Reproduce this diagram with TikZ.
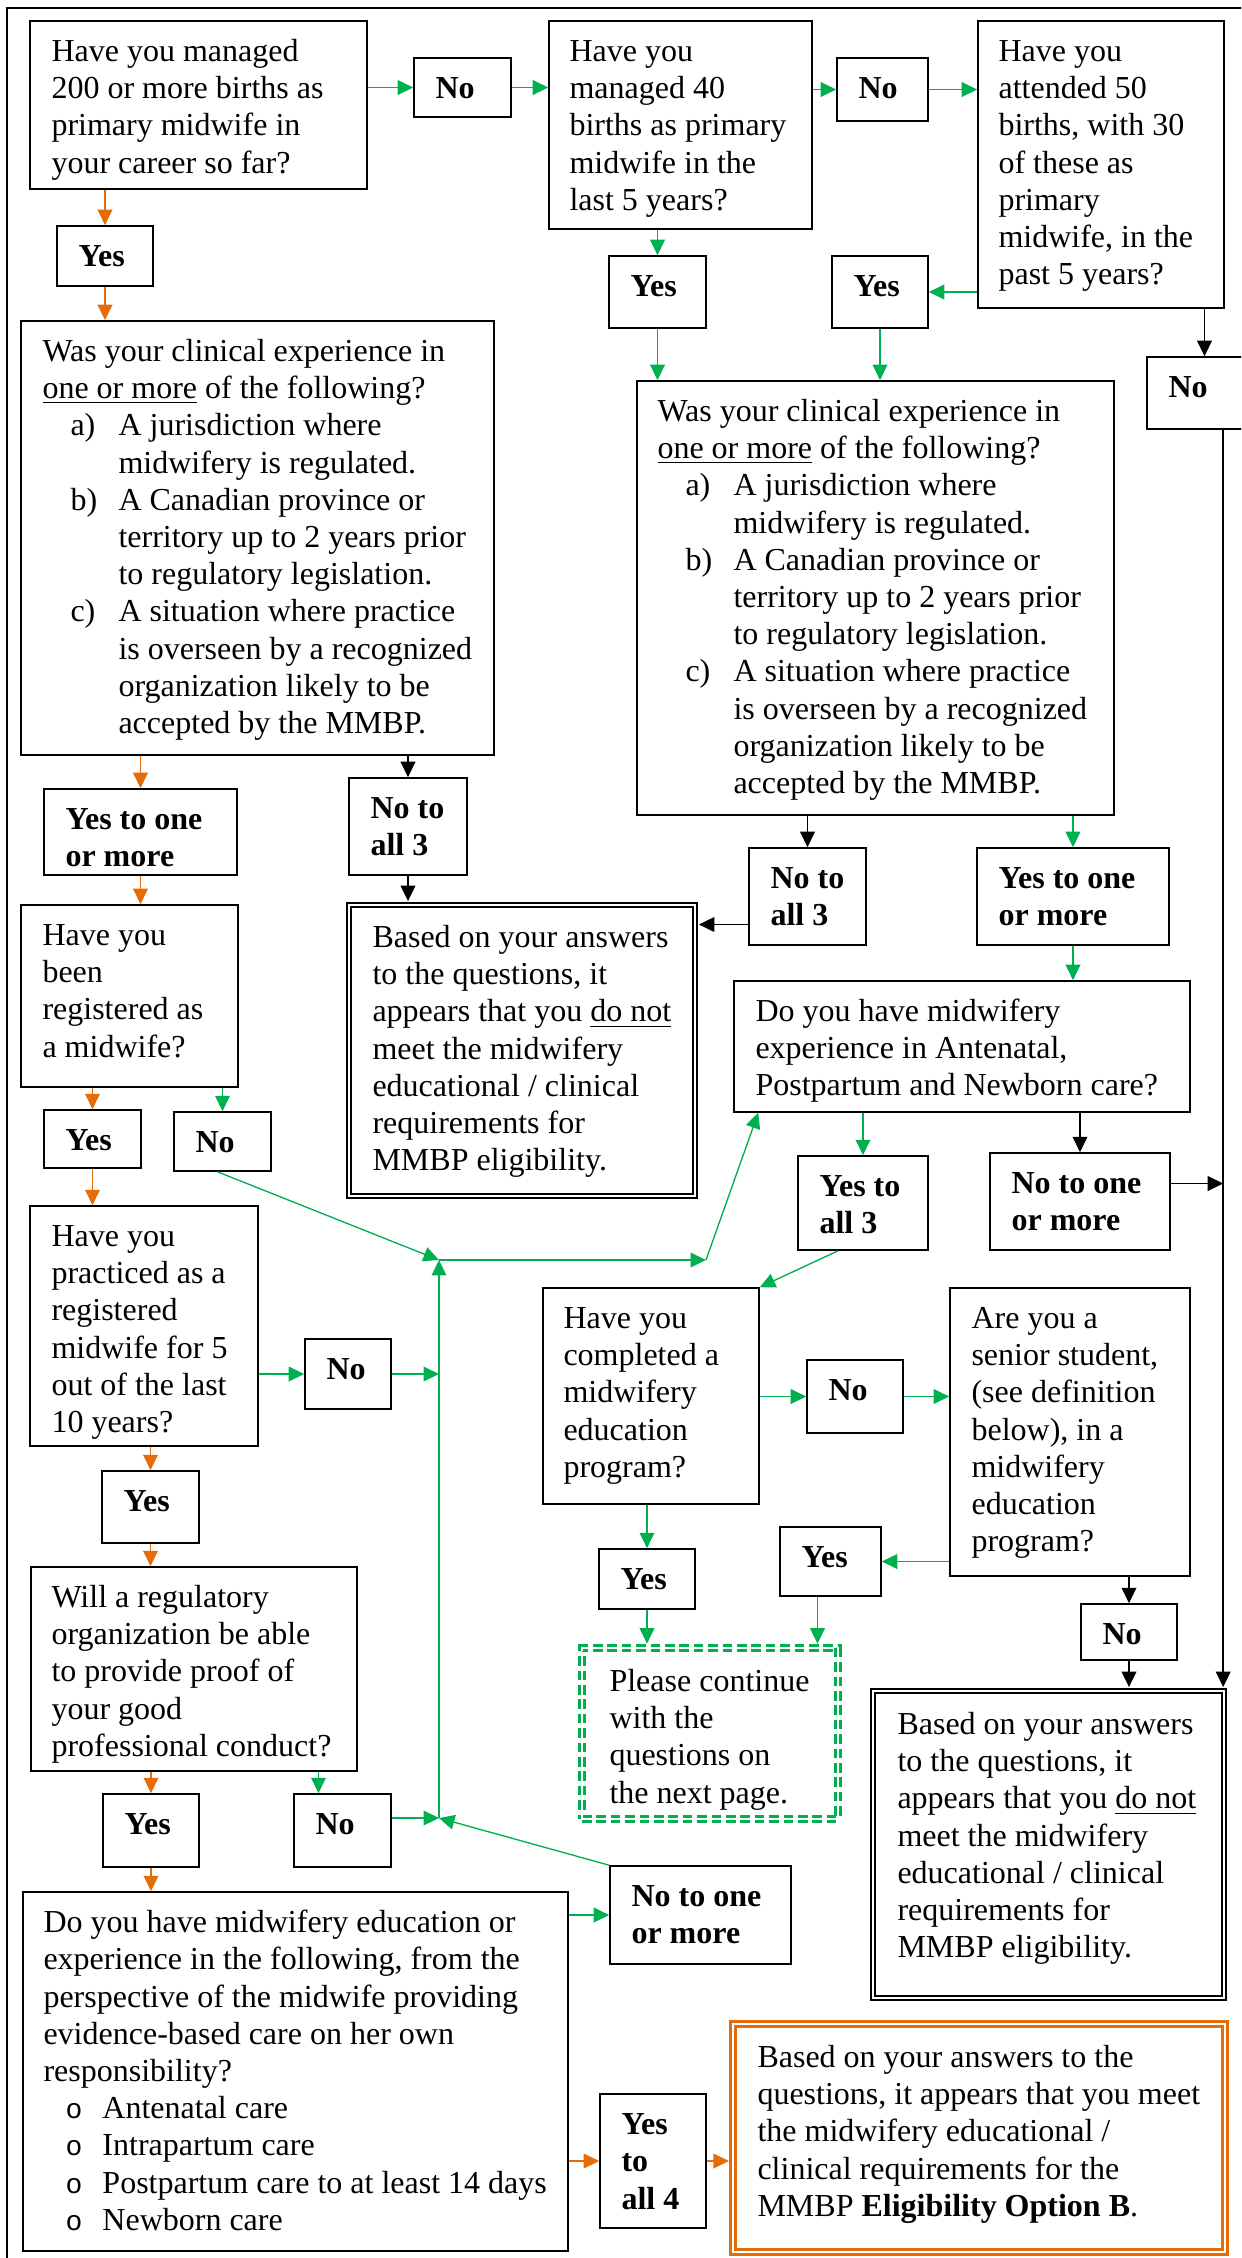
\documentclass[tikz,border=0pt]{standalone}
\usepackage{fontspec}
\setmainfont{Liberation Serif}
\setmonofont{Liberation Mono}
\usetikzlibrary{arrows.meta,calc}
\definecolor{grn}{RGB}{0,176,80}
\definecolor{org}{RGB}{228,108,10}
\tikzset{
  qbox/.style={draw, line width=0.6pt, inner sep=0pt, rectangle},
  kdbox/.style={draw, double, double distance=1.1pt, line width=0.75pt, inner sep=0pt, rectangle},
  odbox/.style={draw=org, double, double distance=1.1pt, line width=0.85pt, inner sep=0pt, rectangle},
  gdbox/.style={draw=grn, double, double distance=0.9pt, line width=1.05pt, dash pattern=on 3.6pt off 1.8pt, inner sep=0pt, rectangle},
  txt/.style={anchor=north west, inner sep=0pt, align=left, font=\fontsize{12}{13.95}\selectfont},
  btxt/.style={txt, font=\fontsize{12}{13.95}\selectfont\bfseries},
  ga/.style={draw=grn, line width=0.5pt, -{Triangle[length=5.8pt,width=5.5pt]}},
  oa/.style={draw=org, line width=0.5pt, -{Triangle[length=5.8pt,width=5.5pt]}},
  ka/.style={draw=black, line width=0.6pt, -{Triangle[length=5.8pt,width=5.5pt]}},
}
\newcommand\bx[9][qbox]{%
  \node[#1, minimum width={(#5-#3)*0.375pt}, minimum height={(#6-#4)*0.375pt}] (#2) at ({(#3+#5)/2},{(#4+#6)/2}) {};
  \node[txt] (#2-t) at ({#3+#7},{#4+#8}) {\strut #9};
}
\newcommand\lb[6]{%
  \node[qbox, minimum width={(#4-#2)*0.375pt}, minimum height={(#5-#3)*0.375pt}] (#1) at ({(#2+#4)/2},{(#3+#5)/2}) {};
  \node[btxt] (#1-t) at ({#2+21},{#3+14}) {\strut #6};
}
\newcommand\itm[1]{\makebox[28.5pt][l]{\hspace{10.5pt}#1}}
\newcommand\ind{\hspace*{28.5pt}}
\newcommand\bul{\makebox[22.1pt][l]{\hspace{8.3pt}{\fontsize{10.5}{12}\ttfamily o}}}
\newcommand\clin{Was your clinical experience in\\\underline{one or more} of the following?\\\itm{a)}A jurisdiction where\\\ind midwifery is regulated.\\\itm{b)}A Canadian province or\\\ind territory up to 2 years prior\\\ind to regulatory legislation.\\\itm{c)}A situation where practice\\\ind is overseen by a recognized\\\ind organization likely to be\\\ind accepted by the MMBP.}
\newcommand\notmeet{Based on your answers\\to the questions, it\\appears that you \underline{do not}\\meet the midwifery\\educational / clinical\\requirements for\\MMBP eligibility.}
\begin{document}
\begin{tikzpicture}[x=0.375pt,y=-0.375pt]
\useasboundingbox (0,0) rectangle (1241,2258);
\clip (0,0) rectangle (1241,2258);
\draw[line width=0.75pt] (7,2300) -- (7,8) -- (1300,8);

\bx{q1}{30}{21}{367}{189}{21}{14}{Have you managed\\200 or more births as\\primary midwife in\\your career so far?}
\bx{q2}{549}{21}{812}{229}{20}{14}{Have you\\managed 40\\births as primary\\midwife in the\\last 5 years?}
\bx{q3}{978}{21}{1224}{308}{20}{14}{Have you\\attended 50\\births, with 30\\of these as\\primary\\midwife, in the\\past 5 years?}
\lb{no1}{414}{58}{511}{117}{No}
\lb{no2}{837}{58}{928}{121}{No}
\lb{yes1}{57}{226}{153}{286}{Yes}
\lb{yes2}{609}{256}{706}{328}{Yes}
\lb{yes3}{832}{256}{928}{328}{Yes}
\lb{noR}{1147}{357}{1262}{429}{No}
\bx{qc1}{21}{321}{494}{755}{21}{14}{\clin}
\bx{qc2}{637}{381}{1114}{815}{20}{14}{\clin}
\lb{yesone1}{44}{789}{237}{875}{Yes to one\\or more}
\lb{noall3a}{349}{778}{467}{875}{No to\\all 3}
\lb{noall3b}{749}{848}{866}{945}{No to\\all 3}
\lb{yesone2}{977}{848}{1169}{945}{Yes to one\\or more}
\bx{qreg}{21}{905}{238}{1087}{21}{14}{Have you\\been\\registered as\\a midwife?}
\bx[kdbox]{black1}{349}{905}{695}{1196}{23}{16}{\notmeet}
\bx{qcare}{734}{981}{1190}{1112}{21}{14}{Do you have midwifery\\experience in Antenatal,\\Postpartum and Newborn care?}
\lb{yesreg}{44}{1110}{141}{1168}{Yes}
\lb{noreg}{174}{1112}{271}{1171}{No}
\lb{yesall3}{798}{1156}{928}{1250}{Yes to\\all 3}
\lb{noonec}{990}{1153}{1170}{1250}{No to one\\or more}
\bx{qpract}{30}{1206}{258}{1446}{21}{14}{Have you\\practiced as a\\registered\\midwife for 5\\out of the last\\10 years?}
\bx{qcomp}{543}{1288}{759}{1504}{20}{14}{Have you\\completed a\\midwifery\\education\\program?}
\bx{senior}{950}{1288}{1190}{1576}{21}{14}{Are you a\\senior student,\\(see definition\\below), in a\\midwifery\\education\\program?}
\lb{nopract}{305}{1339}{391}{1409}{No}
\lb{nocomp}{807}{1360}{903}{1433}{No}
\lb{yespract}{102}{1471}{199}{1543}{Yes}
\lb{yessen}{780}{1527}{881}{1596}{Yes}
\lb{yescomp}{599}{1549}{695}{1609}{Yes}
\bx{qprof}{31}{1567}{357}{1771}{20}{14}{Will a regulatory\\organization be able\\to provide proof of\\your good\\professional conduct?}
\lb{nosen}{1081}{1604}{1177}{1660}{No}
\bx[gdbox]{dashed}{582}{1648}{838}{1819}{27}{17}{Please continue\\with the\\questions on\\the next page.}
\bx[kdbox]{black2}{873}{1691}{1224}{1998}{24}{17}{\notmeet}
\lb{yesprof}{103}{1794}{199}{1867}{Yes}
\lb{noprof}{294}{1794}{391}{1867}{No}
\lb{noonef}{610}{1866}{791}{1964}{No to one\\or more}
\bx{finalq}{23}{1892}{568}{2251}{20}{14}{Do you have midwifery education or\\experience in the following, from the\\perspective of the midwife providing\\evidence-based care on her own\\responsibility?\\\bul Antenatal care\\\bul Intrapartum care\\\bul Postpartum care to at least 14 days\\\bul Newborn care}
\lb{yesall4}{600}{2094}{706}{2228}{Yes\\to\\all 4}
\bx[odbox]{orange}{733}{2024}{1225}{2252}{24}{17}{Based on your answers to the\\questions, it appears that you meet\\the midwifery educational /\\clinical requirements for the\\MMBP \textbf{Eligibility Option B}.}

% junction points and helper coordinates
\coordinate (j1) at (439,1260);
\coordinate (j2) at (439,1818);
\coordinate (k1) at (706,1260);
\coordinate (vtop) at ($(noR.south west)+(77,0)$);
\coordinate (a17) at ($(noall3b.west)+(0,28)$);
\coordinate (a27) at ($(noonec.east)+(0,-18)$);
\coordinate (a35) at ($(noprof.north)+(-24,0)$);
\coordinate (a47) at ($(yessen.south)+(-13,0)$);
\coordinate (nrs) at ($(noreg.south)+(-5,0)$);

% connectors
\draw[ga] (q1.east |- no1.west) -- (no1.west);
\draw[ga] (no1.east) -- (no1.east -| q2.west);
\draw[ga] (q2.east |- no2.west) -- (no2.west);
\draw[ga] (no2.east) -- (no2.east -| q3.west);
\draw[oa] (q1.south -| yes1.north) -- (yes1.north);
\draw[oa] (yes1.south) -- (yes1.south |- qc1.north);
\draw[ga] (q2.south -| yes2.north) -- (yes2.north);
\draw[ga] (yes2.south) -- (yes2.south |- qc2.north);
\draw[ga] (q3.west |- yes3.east) -- (yes3.east);
\draw[ga] (yes3.south) -- (yes3.south |- qc2.north);
\draw[ka] (q3.south -| noR.north) -- (noR.north);
\draw[oa] (qc1.south -| yesone1.north) -- (yesone1.north);
\draw[ka] (qc1.south -| noall3a.north) -- (noall3a.north);
\draw[ka, shorten >=1.1pt] (noall3a.south) -- (noall3a.south |- black1.north);
\draw[ka] (qc2.south -| noall3b.north) -- (noall3b.north);
\draw[ga] (qc2.south -| yesone2.north) -- (yesone2.north);
\draw[ka, shorten >=1.1pt] (a17) -- (a17 -| black1.east);
\draw[ga] (yesone2.south) -- (yesone2.south |- qcare.north);
\draw[oa] (yesone1.south) -- (yesone1.south |- qreg.north);
\draw[oa] (qreg.south -| yesreg.north) -- (yesreg.north);
\draw[ga] (qreg.south -| noreg.north) -- (noreg.north);
\draw[ga] (nrs) -- (j1);
\draw[ga] (j2) -- (j1);
\draw[ga] (j1) -- (k1);
\draw[ga] (k1) -- ($(qcare.south west)+(25,0)$);
\draw[ga] (qcare.south -| yesall3.north) -- (yesall3.north);
\draw[ka] (qcare.south -| noonec.north) -- (noonec.north);
\draw[ka, shorten >=1.1pt] (vtop) -- (vtop |- black2.north);
\draw[ka] (a27) -- (a27 -| vtop);
\draw[ga] ($(yesall3.south)+(-25,0)$) -- (qcomp.north east);
\draw[ga] (qpract.east |- nopract.west) -- (nopract.west);
\draw[ga] (nopract.east) -- (nopract.east -| j1);
\draw[oa] (yesreg.south) -- (yesreg.south |- qpract.north);
\draw[oa] (qpract.south -| yespract.north) -- (yespract.north);
\draw[oa] (yespract.south) -- (yespract.south |- qprof.north);
\draw[oa] (qprof.south -| yesprof.north) -- (yesprof.north);
\draw[ga] (a35 |- qprof.south) -- (a35);
\draw[ga] (noprof.east |- j2) -- (j2);
\draw[ga] (noonef.north west) -- (j2);
\draw[oa] (yesprof.south) -- (yesprof.south |- finalq.north);
\draw[ga] (finalq.east |- noonef.west) -- (noonef.west);
\draw[oa] (finalq.east |- yesall4.west) -- (yesall4.west);
\draw[oa, shorten >=1.1pt] (yesall4.east) -- (yesall4.east -| orange.west);
\draw[ga] (qcomp.east |- nocomp.west) -- (nocomp.west);
\draw[ga] (nocomp.east) -- (nocomp.east -| senior.west);
\draw[ga] (qcomp.south -| yescomp.north) -- (yescomp.north);
\draw[ga, shorten >=1.1pt] (yescomp.south) -- (yescomp.south |- dashed.north);
\draw[ga] (senior.west |- yessen.east) -- (yessen.east);
\draw[ga, shorten >=1.1pt] (a47) -- (a47 |- dashed.north);
\draw[ka] (senior.south -| nosen.north) -- (nosen.north);
\draw[ka, shorten >=1.1pt] (nosen.south) -- (nosen.south |- black2.north);
\end{tikzpicture}
\end{document}
